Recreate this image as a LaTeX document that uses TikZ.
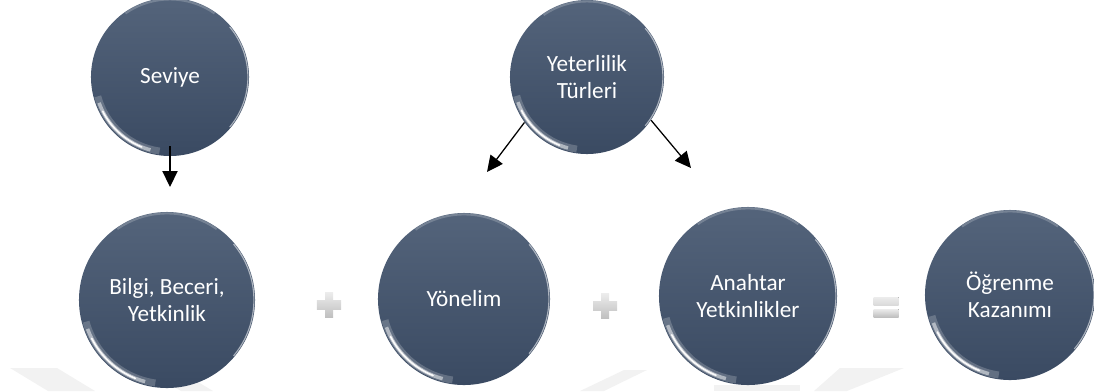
\documentclass[tikz,border=0pt]{standalone}
\usepackage{fontspec}
\setmainfont{Carlito}
\usetikzlibrary{shapes,backgrounds,calc,arrows.meta}

\begin{document}
\begin{tikzpicture}[x=0.025cm,y=-0.025cm,
        bubble/.style={circle,draw=none,text=white,align=center,inner sep=0pt,
            font=\fontsize{16.5}{19}\selectfont,
            top color={rgb,255:red,84;green,100;blue,123},
            bottom color={rgb,255:red,58;green,74;blue,98},
            path picture={
                \draw[white,opacity=.2,line width=5pt]
                    let \p1=($(path picture bounding box.east)-(path picture bounding box.center)$) in
                    ($(path picture bounding box.center)+(195:{\x1-3pt})$) arc[start angle=195,end angle=262,radius={\x1-3pt}];
                \draw[white,opacity=.5,line width=2.5pt]
                    let \p1=($(path picture bounding box.east)-(path picture bounding box.center)$) in
                    ($(path picture bounding box.center)+(200:{\x1-2.5pt})$) arc[start angle=200,end angle=255,radius={\x1-2.5pt}];
                \draw[white,opacity=.95,line width=1.2pt,line cap=round]
                    let \p1=($(path picture bounding box.east)-(path picture bounding box.center)$) in
                    ($(path picture bounding box.center)+(207:{\x1-2.5pt})$) arc[start angle=207,end angle=248,radius={\x1-2.5pt}];
                \draw[white,opacity=.55,line width=.8pt]
                    let \p1=($(path picture bounding box.east)-(path picture bounding box.center)$) in
                    ($(path picture bounding box.center)+(-40:{\x1-.8pt})$) arc[start angle=-40,end angle=40,radius={\x1-.8pt}];
                \draw[white,opacity=.2,line width=1.5pt]
                    let \p1=($(path picture bounding box.east)-(path picture bounding box.center)$) in
                    ($(path picture bounding box.center)+(55:{\x1-1pt})$) arc[start angle=55,end angle=125,radius={\x1-1pt}];
            }},
        arr/.style={-{Triangle[length=0.4cm,width=0.38cm]},line width=0.9pt},
        opfill/.style={top color=gray!15,bottom color=gray!50},
        plussign/.style={minimum width=0.6cm,minimum height=0.62cm,inner sep=0pt,
            path picture={
                \fill[opfill] ([yshift=-0.11cm]path picture bounding box.west) rectangle ([yshift=0.11cm]path picture bounding box.east);
                \fill[opfill] ([xshift=-0.1cm]path picture bounding box.north) rectangle ([xshift=0.1cm]path picture bounding box.south);
            }},
        equalsign/.style={minimum width=0.625cm,minimum height=0.5cm,inner sep=0pt,
            path picture={
                \fill[opfill] (path picture bounding box.north west) rectangle ([yshift=-0.2cm]path picture bounding box.north east);
                \fill[opfill] ([yshift=0.2cm]path picture bounding box.south west) rectangle (path picture bounding box.south east);
            }},
        wmark/.style={fill=black!5}
    ]
        \useasboundingbox (0,0) rectangle (1094,391);
        % faint watermark bands along the bottom
        \fill[wmark] (10,368) -- (57,368) -- (95,391) -- (48,391) -- cycle;
        \fill[wmark] (143,368) -- (175,368) -- (213,391) -- (181,391) -- cycle;
        \fill[wmark] (624,370) -- (647,370) -- (604,391) -- (580,391) -- cycle;
        \fill[wmark] (714,385) rectangle (800,391);
        \fill[wmark] (840,368) -- (904,368) -- (847,391) -- (814,391) -- cycle;

        % circles
        \node[bubble,minimum size=3.95cm] (sev) at (170,77) {Seviye};
        \node[bubble,minimum size=3.85cm] (yet) at (587,77) {Yeterlilik\\Türleri};
        \node[bubble,minimum size=4.4cm] (bilgi) at (167,300) {Bilgi, Beceri,\\Yetkinlik};
        \node[bubble,minimum size=4.3cm] (yon) at (464,299) {Yönelim};
        \node[bubble,minimum size=4.45cm] (anah) at (748,296) {Anahtar\\Yetkinlikler};
        \node[bubble,minimum size=4.25cm] (ogr) at (1010,295) {Öğrenme\\Kazanımı};

        % signs
        \node[plussign] (plus1) at (329,305) {};
        \node[plussign] (plus2) at (605,306) {};
        \node[equalsign] (eq) at (886,307) {};

        % arrows
        \coordinate (sevtip) at (170,187);
        \coordinate (yetleft) at (487,172);
        \coordinate (yetright) at (691,168);
        \draw[arr] ([yshift=7pt]sev.south) -- (sevtip);
        \draw[arr] (yet.216) -- (yetleft);
        \draw[arr] (yet.326) -- (yetright);
\end{tikzpicture}
\end{document}
